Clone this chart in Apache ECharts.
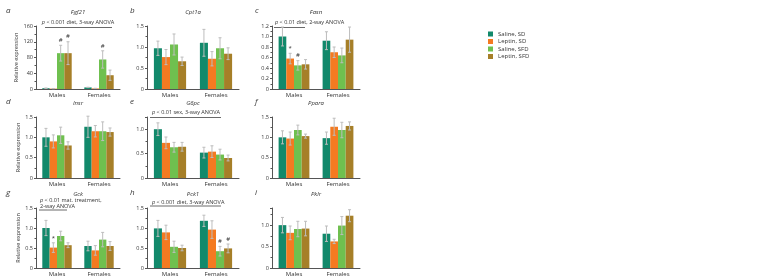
<!DOCTYPE html>
<html>
<head>
<meta charset="utf-8">
<script src="https://cdn.jsdelivr.net/npm/echarts@6/dist/echarts.min.js"></script>
<style>
  html, body { margin: 0; background: #fff; }
  #chart { width: 762px; height: 280px; }
</style>
</head>
<body>
<div id="chart"></div>
<script>
const groups = ['Males', 'Females'];
const seriesNames = ['Saline, SD', 'Leptin, SD', 'Saline, SFD', 'Leptin, SFD'];
const colors = ['#12896b', '#f47a21', '#6fc04f', '#a67f28'];

// mean / sem per treatment: [males, females]
const fgf21Mean = [[2, 4], [1, 1.5], [91, 75], [91, 35]];
const fgf21Sem  = [[0.5, 0.5], [0.3, 0.3], [20, 22], [29, 13]];
const cpt1aMean = [[0.97, 1.1], [0.76, 0.72], [1.06, 0.97], [0.66, 0.84]];
const cpt1aSem  = [[0.17, 0.32], [0.18, 0.17], [0.25, 0.25], [0.1, 0.14]];
const fasnMean  = [[1.0, 0.92], [0.58, 0.7], [0.45, 0.64], [0.47, 0.94]];
const fasnSem   = [[0.18, 0.17], [0.1, 0.1], [0.09, 0.14], [0.09, 0.24]];
const insrMean  = [[1.0, 1.26], [0.9, 1.15], [1.05, 1.15], [0.8, 1.13]];
const insrSem   = [[0.22, 0.26], [0.16, 0.14], [0.2, 0.23], [0.09, 0.1]];
const g6pcMean  = [[1.0, 0.52], [0.72, 0.54], [0.63, 0.48], [0.64, 0.41]];
const g6pcSem   = [[0.13, 0.11], [0.12, 0.12], [0.1, 0.11], [0.09, 0.06]];
const pparaMean = [[1.0, 0.98], [0.97, 1.26], [1.18, 1.18], [1.03, 1.28]];
const pparaSem  = [[0.16, 0.15], [0.16, 0.21], [0.12, 0.19], [0.05, 0.1]];
const gckMean   = [[1.0, 0.55], [0.51, 0.44], [0.8, 0.71], [0.57, 0.55]];
const gckSem    = [[0.19, 0.12], [0.12, 0.12], [0.12, 0.18], [0.06, 0.11]];
const pck1Mean  = [[0.99, 1.18], [0.89, 0.96], [0.53, 0.42], [0.5, 0.49]];
const pck1Sem   = [[0.2, 0.14], [0.18, 0.22], [0.14, 0.12], [0.07, 0.11]];
const pklrMean  = [[1.0, 0.8], [0.82, 0.62], [0.91, 0.99], [0.92, 1.22]];
const pklrSem   = [[0.18, 0.18], [0.16, 0.05], [0.18, 0.21], [0.17, 0.14]];

// significance marks: [treatment, group, text]
const fgf21Marks = [[2, 0, '#'], [3, 0, '#'], [2, 1, '#']];
const fasnMarks  = [[1, 0, '*'], [2, 0, '#']];
const gckMarks   = [[1, 0, '*']];
const pck1Marks  = [[2, 1, '#'], [3, 1, '#']];

const panels = [
  { letter: 'a', gene: 'Fgf21', mean: fgf21Mean, sem: fgf21Sem, marks: fgf21Marks, max: 160, interval: 40 },
  { letter: 'b', gene: 'Cpt1a', mean: cpt1aMean, sem: cpt1aSem, marks: [], max: 1.5, interval: 0.5 },
  { letter: 'c', gene: 'Fasn', mean: fasnMean, sem: fasnSem, marks: fasnMarks, max: 1.2, interval: 0.2 },
  { letter: 'd', gene: 'Insr', mean: insrMean, sem: insrSem, marks: [], max: 1.5, interval: 0.5 },
  { letter: 'e', gene: 'G6pc', mean: g6pcMean, sem: g6pcSem, marks: [], max: 1.25, interval: 0.5 },
  { letter: 'f', gene: 'Ppara', mean: pparaMean, sem: pparaSem, marks: [], max: 1.5, interval: 0.5 },
  { letter: 'g', gene: 'Gck', mean: gckMean, sem: gckSem, marks: gckMarks, max: 1.5, interval: 0.5 },
  { letter: 'h', gene: 'Pck1', mean: pck1Mean, sem: pck1Sem, marks: pck1Marks, max: 1.5, interval: 0.5 },
  { letter: 'i', gene: 'Pklr', mean: pklrMean, sem: pklrSem, marks: [], max: 1.4, interval: 0.5 }
];

// layout
const cols = [{ left: 36, width: 84 }, { left: 147, width: 92 }, { left: 272, width: 88 }];
const rows = [{ top: 26, bottom: 89 }, { top: 117, bottom: 178 }, { top: 208, bottom: 268 }];
const CAT_GAP = 0.3;
const FONT = 'Open Sans';
const TXT = '#333';

const chart = echarts.init(document.getElementById('chart'));

const grids = [], xAxes = [], yAxes = [], series = [], titles = [], graphics = [];

function errItem(params, api) {
  const g = api.value(0), k = api.value(1), m = api.value(2), s = api.value(3);
  const band = api.size([1, 0])[0];
  const bw = band * (1 - CAT_GAP) / 4;
  const cx = api.coord([g, m])[0] + (k - 1.5) * bw;
  const yHi = api.coord([g, m + s])[1];
  const yLo = api.coord([g, Math.max(m - s, 0)])[1];
  const st = { stroke: '#bdbdbd', lineWidth: 1 };
  return {
    type: 'group',
    children: [
      { type: 'line', shape: { x1: cx, y1: yHi, x2: cx, y2: yLo }, style: st },
      { type: 'line', shape: { x1: cx - 1.5, y1: yHi, x2: cx + 1.5, y2: yHi }, style: st },
      { type: 'line', shape: { x1: cx - 1.5, y1: yLo, x2: cx + 1.5, y2: yLo }, style: st }
    ]
  };
}

function markItem(params, api) {
  const g = api.value(0), k = api.value(1), top = api.value(2);
  const band = api.size([1, 0])[0];
  const bw = band * (1 - CAT_GAP) / 4;
  const p = api.coord([g, top]);
  return {
    type: 'text',
    style: {
      text: api.value(3) === 1 ? '*' : '#',
      x: p[0] + (k - 1.5) * bw, y: p[1] - 2,
      align: 'center', verticalAlign: 'bottom',
      fontSize: 6, fontFamily: FONT, fill: TXT
    }
  };
}

panels.forEach((p, i) => {
  const c = cols[i % 3], r = rows[Math.floor(i / 3)];
  const steps = p.max / p.interval;
  grids.push({ left: c.left, width: c.width, top: r.top, height: r.bottom - r.top });
  xAxes.push({
    gridIndex: i, type: 'category', data: groups,
    axisLine: { lineStyle: { color: '#555', width: 1 } },
    axisTick: { show: false },
    axisLabel: { fontSize: 6, fontFamily: FONT, color: TXT, margin: 3 }
  });
  yAxes.push({
    gridIndex: i, type: 'value', min: 0, max: p.max, interval: p.interval,
    name: i % 3 === 0 ? 'Relative expression' : '',
    nameLocation: 'middle', nameGap: i === 0 ? 17 : 15,
    nameTextStyle: { fontSize: 5.5, fontFamily: FONT, color: TXT },
    axisLine: { show: true, lineStyle: { color: '#555', width: 1 } },
    axisTick: { show: true, length: 2, lineStyle: { color: '#555' } },
    minorTick: { show: true, splitNumber: 2, length: 1.5, lineStyle: { color: '#555' } },
    splitLine: { show: false },
    axisLabel: {
      fontSize: 5.5, fontFamily: FONT, color: TXT, margin: 3,
      showMaxLabel: Math.abs(steps - Math.round(steps)) < 1e-6,
      formatter: v => (v === 0 ? '0' : (p.interval < 1 ? v.toFixed(1) : String(v)))
    }
  });
  seriesNames.forEach((name, k) => {
    series.push({
      type: 'bar', name: name, xAxisIndex: i, yAxisIndex: i,
      data: p.mean[k], barGap: '0%', barCategoryGap: (CAT_GAP * 100) + '%',
      itemStyle: { color: colors[k] }, silent: true
    });
  });
  const errData = [];
  p.mean.forEach((vals, k) => vals.forEach((m, g) => errData.push([g, k, m, p.sem[k][g]])));
  series.push({
    type: 'custom', xAxisIndex: i, yAxisIndex: i, z: 5,
    renderItem: errItem, data: errData, encode: { x: 0, y: 2 }
  });
  if (p.marks.length) {
    series.push({
      type: 'custom', xAxisIndex: i, yAxisIndex: i, z: 5,
      renderItem: markItem, encode: { x: 0, y: 2 },
      data: p.marks.map(m => [m[1], m[0], p.mean[m[0]][m[1]] + p.sem[m[0]][m[1]], m[2] === '*' ? 1 : 0])
    });
  }
  titles.push({
    text: p.gene, left: c.left + c.width / 2, top: r.top - 17, textAlign: 'center', padding: 0,
    textStyle: { fontSize: 6, fontStyle: 'italic', fontWeight: 'normal', fontFamily: FONT, color: TXT }
  });
  titles.push({
    text: p.letter, left: i % 3 === 0 ? 6 : c.left - 17, top: r.top - 19, padding: 0,
    textStyle: { fontSize: 8, fontStyle: 'italic', fontWeight: 'normal', fontFamily: FONT, color: TXT }
  });
});

// ANOVA notes above panels
function note(idx, lines, tx, ty, align, lx1, lx2, ly) {
  const c = cols[idx % 3], r = rows[Math.floor(idx / 3)];
  lines.forEach((t, j) => {
    graphics.push({
      type: 'text', x: c.left + tx, y: r.top + ty + j * 6,
      style: {
        text: t, fill: TXT, fontSize: 5.5, fontFamily: FONT, align: align, verticalAlign: 'middle',
        rich: { i: { fontStyle: 'italic', fontSize: 5.5, fontFamily: FONT, fill: TXT } }
      }
    });
  });
  graphics.push({
    type: 'line', shape: { x1: c.left + lx1, y1: r.top + ly, x2: c.left + lx2, y2: r.top + ly },
    style: { stroke: '#444', lineWidth: 0.8 }
  });
}
note(0, ['{i|p} < 0.001 diet, 3-way ANOVA'], 42, -4, 'center', 9, 76, 1.5);
note(2, ['{i|p} < 0.01 diet, 2-way ANOVA'], 3, -4, 'left', 2, 33, 1.5);
note(4, ['{i|p} < 0.01 sex, 3-way ANOVA'], 5, -5, 'left', 3, 74, 0.5);
note(6, ['{i|p} < 0.01 mat. treatment,', '2-way ANOVA'], 4, -8, 'left', 3, 31, 2);
note(7, ['{i|p} < 0.001 diet, 3-way ANOVA'], 5, -6, 'left', 3, 74, -2);

chart.setOption({
  animation: false,
  title: titles,
  grid: grids,
  xAxis: xAxes,
  yAxis: yAxes,
  series: series,
  graphic: graphics,
  legend: {
    data: seriesNames, orient: 'vertical', left: 488, top: 31, padding: 0,
    icon: 'rect', itemWidth: 5, itemHeight: 5, itemGap: 1.5,
    textStyle: { fontSize: 6, fontFamily: FONT, color: TXT, lineHeight: 6 }
  }
});

window.onresize = function () {
  chart.resize();
};
</script>
</body>
</html>
